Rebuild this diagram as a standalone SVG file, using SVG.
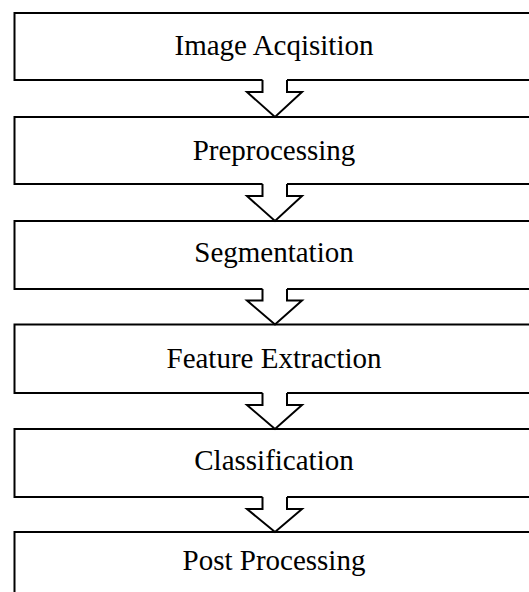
<svg xmlns="http://www.w3.org/2000/svg" width="529" height="592" viewBox="0 0 529 592">
<style>
.box{fill:#fff;stroke:#000;stroke-width:2}
.arr{fill:#fff;stroke:none}
.arl{fill:none;stroke:#000;stroke-width:2;stroke-linejoin:miter}
.lbl{font-family:"Liberation Serif","Times New Roman",serif;font-size:29px;fill:#000;text-anchor:middle}
</style>
<rect width="529" height="592" fill="#fff"/>
<g id="n1"><rect class="box" x="14.5" y="13" width="530" height="67"/><text class="lbl" x="274" y="55">Image Acqisition</text></g>
<g id="n2"><rect class="box" x="14.5" y="117" width="530" height="67"/><text class="lbl" x="274" y="160">Preprocessing</text></g>
<g id="n3"><rect class="box" x="14.5" y="221" width="530" height="68"/><text class="lbl" x="274" y="262">Segmentation</text></g>
<g id="n4"><rect class="box" x="14.5" y="324.5" width="530" height="68.5"/><text class="lbl" x="274" y="368">Feature Extraction</text></g>
<g id="n5"><rect class="box" x="14.5" y="429" width="530" height="68"/><text class="lbl" x="274" y="470">Classification</text></g>
<g id="n6"><rect class="box" x="14.5" y="532" width="530" height="80"/><text class="lbl" x="274" y="570">Post Processing</text></g>
<g id="connectors">
<g transform="translate(0,80)"><path class="arr" d="M262.5,-1.5 V12 H247 L275,37 L302,12 H287 V-1.5 Z"/><path class="arl" d="M262.5,0 V12 H247 L275,37 L302,12 H287 V0"/></g>
<g transform="translate(0,184)"><path class="arr" d="M262.5,-1.5 V12 H247 L275,37 L302,12 H287 V-1.5 Z"/><path class="arl" d="M262.5,0 V12 H247 L275,37 L302,12 H287 V0"/></g>
<g transform="translate(0,289)"><path class="arr" d="M262.5,-1.5 V11.5 H247 L275,35.5 L302,11.5 H287 V-1.5 Z"/><path class="arl" d="M262.5,0 V11.5 H247 L275,35.5 L302,11.5 H287 V0"/></g>
<g transform="translate(0,393)"><path class="arr" d="M262.5,-1.5 V12 H247 L275,36 L302,12 H287 V-1.5 Z"/><path class="arl" d="M262.5,0 V12 H247 L275,36 L302,12 H287 V0"/></g>
<g transform="translate(0,497)"><path class="arr" d="M262.5,-1.5 V12 H247 L275,35 L302,12 H287 V-1.5 Z"/><path class="arl" d="M262.5,0 V12 H247 L275,35 L302,12 H287 V0"/></g>
</g>
</svg>
